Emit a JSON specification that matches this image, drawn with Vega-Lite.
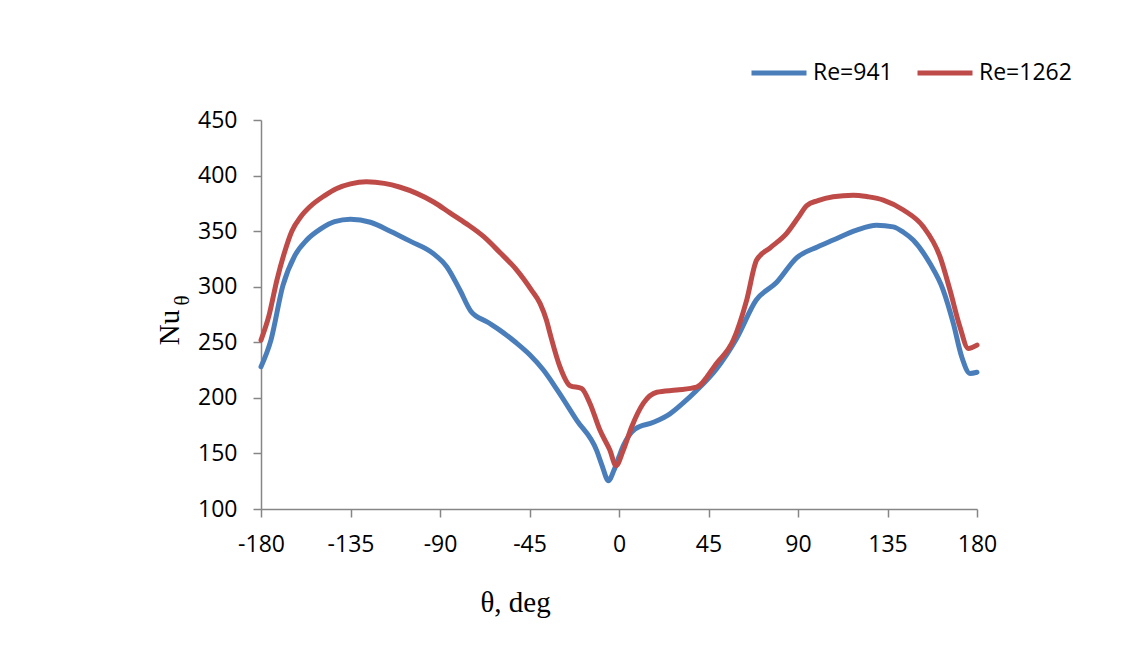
{
  "$schema": "https://vega.github.io/schema/vega-lite/v6.json",
  "width": 716,
  "height": 389,
  "autosize": {"type": "none"},
  "padding": {"left": 261, "top": 120, "right": 156, "bottom": 138},
  "background": "white",
  "config": {
    "view": {"stroke": null},
    "axis": {
      "domainColor": "#868686",
      "domainWidth": 1.5,
      "tickColor": "#868686",
      "tickWidth": 1.5,
      "tickSize": 8,
      "grid": false,
      "labelFont": "Open Sans",
      "labelFontSize": 23,
      "labelColor": "#000000",
      "labelFlush": false,
      "labelOverlap": false,
      "titleFont": "Liberation Serif",
      "titleFontSize": 29,
      "titleFontWeight": "normal",
      "titleColor": "#000000"
    }
  },
  "data": {
    "values": [
      {"theta": -180, "Nu": 228, "series": "Re=941"},
      {"theta": -175, "Nu": 252, "series": "Re=941"},
      {"theta": -169, "Nu": 301, "series": "Re=941"},
      {"theta": -163, "Nu": 328, "series": "Re=941"},
      {"theta": -157, "Nu": 342, "series": "Re=941"},
      {"theta": -150, "Nu": 352, "series": "Re=941"},
      {"theta": -143, "Nu": 358.5, "series": "Re=941"},
      {"theta": -135, "Nu": 360.7, "series": "Re=941"},
      {"theta": -125, "Nu": 358, "series": "Re=941"},
      {"theta": -115, "Nu": 350, "series": "Re=941"},
      {"theta": -105, "Nu": 341, "series": "Re=941"},
      {"theta": -93.5, "Nu": 330, "series": "Re=941"},
      {"theta": -86.6, "Nu": 318, "series": "Re=941"},
      {"theta": -80, "Nu": 297, "series": "Re=941"},
      {"theta": -74.5, "Nu": 278, "series": "Re=941"},
      {"theta": -66, "Nu": 268, "series": "Re=941"},
      {"theta": -59.8, "Nu": 260.7, "series": "Re=941"},
      {"theta": -52, "Nu": 250, "series": "Re=941"},
      {"theta": -45, "Nu": 239, "series": "Re=941"},
      {"theta": -38, "Nu": 225, "series": "Re=941"},
      {"theta": -31, "Nu": 207, "series": "Re=941"},
      {"theta": -21.3, "Nu": 180, "series": "Re=941"},
      {"theta": -11.2, "Nu": 152.5, "series": "Re=941"},
      {"theta": -8.7, "Nu": 140, "series": "Re=941"},
      {"theta": -5.3, "Nu": 125.5, "series": "Re=941"},
      {"theta": -2.5, "Nu": 135, "series": "Re=941"},
      {"theta": 0, "Nu": 147, "series": "Re=941"},
      {"theta": 2.2, "Nu": 157, "series": "Re=941"},
      {"theta": 5, "Nu": 166, "series": "Re=941"},
      {"theta": 8.1, "Nu": 172, "series": "Re=941"},
      {"theta": 17.3, "Nu": 178, "series": "Re=941"},
      {"theta": 25.6, "Nu": 185.6, "series": "Re=941"},
      {"theta": 32, "Nu": 195, "series": "Re=941"},
      {"theta": 39, "Nu": 206.6, "series": "Re=941"},
      {"theta": 49, "Nu": 226, "series": "Re=941"},
      {"theta": 59, "Nu": 253, "series": "Re=941"},
      {"theta": 69, "Nu": 288, "series": "Re=941"},
      {"theta": 79.3, "Nu": 304, "series": "Re=941"},
      {"theta": 89.3, "Nu": 326, "series": "Re=941"},
      {"theta": 100, "Nu": 336, "series": "Re=941"},
      {"theta": 107.7, "Nu": 342, "series": "Re=941"},
      {"theta": 119.5, "Nu": 351, "series": "Re=941"},
      {"theta": 129.5, "Nu": 355.3, "series": "Re=941"},
      {"theta": 137.9, "Nu": 353.8, "series": "Re=941"},
      {"theta": 143, "Nu": 349, "series": "Re=941"},
      {"theta": 147.9, "Nu": 342, "series": "Re=941"},
      {"theta": 156.3, "Nu": 321, "series": "Re=941"},
      {"theta": 163, "Nu": 297, "series": "Re=941"},
      {"theta": 168.1, "Nu": 267, "series": "Re=941"},
      {"theta": 172.3, "Nu": 237, "series": "Re=941"},
      {"theta": 176.5, "Nu": 222, "series": "Re=941"},
      {"theta": 180, "Nu": 223, "series": "Re=941"},
      {"theta": -180, "Nu": 252, "series": "Re=1262"},
      {"theta": -176, "Nu": 274, "series": "Re=1262"},
      {"theta": -172, "Nu": 306, "series": "Re=1262"},
      {"theta": -168, "Nu": 332, "series": "Re=1262"},
      {"theta": -164.5, "Nu": 350, "series": "Re=1262"},
      {"theta": -160, "Nu": 363, "series": "Re=1262"},
      {"theta": -155.4, "Nu": 372, "series": "Re=1262"},
      {"theta": -148, "Nu": 382, "series": "Re=1262"},
      {"theta": -141.9, "Nu": 388.4, "series": "Re=1262"},
      {"theta": -135, "Nu": 392.5, "series": "Re=1262"},
      {"theta": -127, "Nu": 394.4, "series": "Re=1262"},
      {"theta": -118, "Nu": 393, "series": "Re=1262"},
      {"theta": -110, "Nu": 389.5, "series": "Re=1262"},
      {"theta": -101.7, "Nu": 384, "series": "Re=1262"},
      {"theta": -93, "Nu": 376, "series": "Re=1262"},
      {"theta": -85, "Nu": 366.5, "series": "Re=1262"},
      {"theta": -77, "Nu": 357, "series": "Re=1262"},
      {"theta": -68, "Nu": 345, "series": "Re=1262"},
      {"theta": -60, "Nu": 331, "series": "Re=1262"},
      {"theta": -51.4, "Nu": 315, "series": "Re=1262"},
      {"theta": -44, "Nu": 297, "series": "Re=1262"},
      {"theta": -39.7, "Nu": 285, "series": "Re=1262"},
      {"theta": -36.5, "Nu": 270, "series": "Re=1262"},
      {"theta": -34.7, "Nu": 258, "series": "Re=1262"},
      {"theta": -29.7, "Nu": 228, "series": "Re=1262"},
      {"theta": -24.6, "Nu": 211, "series": "Re=1262"},
      {"theta": -18.8, "Nu": 208.5, "series": "Re=1262"},
      {"theta": -14.6, "Nu": 195, "series": "Re=1262"},
      {"theta": -9.6, "Nu": 171, "series": "Re=1262"},
      {"theta": -4.6, "Nu": 153, "series": "Re=1262"},
      {"theta": -1.5, "Nu": 139, "series": "Re=1262"},
      {"theta": 2.1, "Nu": 152.6, "series": "Re=1262"},
      {"theta": 6.4, "Nu": 174, "series": "Re=1262"},
      {"theta": 12.2, "Nu": 195, "series": "Re=1262"},
      {"theta": 19, "Nu": 205, "series": "Re=1262"},
      {"theta": 29, "Nu": 207, "series": "Re=1262"},
      {"theta": 39, "Nu": 209.6, "series": "Re=1262"},
      {"theta": 49, "Nu": 231, "series": "Re=1262"},
      {"theta": 57.5, "Nu": 252, "series": "Re=1262"},
      {"theta": 64.2, "Nu": 288, "series": "Re=1262"},
      {"theta": 69.2, "Nu": 324, "series": "Re=1262"},
      {"theta": 76, "Nu": 335, "series": "Re=1262"},
      {"theta": 84.3, "Nu": 348, "series": "Re=1262"},
      {"theta": 90, "Nu": 362, "series": "Re=1262"},
      {"theta": 94.4, "Nu": 373, "series": "Re=1262"},
      {"theta": 100, "Nu": 377.5, "series": "Re=1262"},
      {"theta": 107.7, "Nu": 381, "series": "Re=1262"},
      {"theta": 117.8, "Nu": 382.4, "series": "Re=1262"},
      {"theta": 125, "Nu": 381, "series": "Re=1262"},
      {"theta": 132.9, "Nu": 378, "series": "Re=1262"},
      {"theta": 143, "Nu": 369, "series": "Re=1262"},
      {"theta": 153, "Nu": 354, "series": "Re=1262"},
      {"theta": 161.4, "Nu": 327, "series": "Re=1262"},
      {"theta": 166.4, "Nu": 297, "series": "Re=1262"},
      {"theta": 171.4, "Nu": 264, "series": "Re=1262"},
      {"theta": 175.6, "Nu": 244.5, "series": "Re=1262"},
      {"theta": 180, "Nu": 247.5, "series": "Re=1262"}
    ]
  },
  "layer": [
    {
      "mark": {"type": "line", "interpolate": "monotone", "strokeWidth": 5, "strokeCap": "round", "strokeJoin": "round"},
      "encoding": {
        "x": {
          "field": "theta",
          "type": "quantitative",
          "scale": {"domain": [-180, 180], "nice": false, "zero": false},
          "axis": {
            "values": [-180, -135, -90, -45, 0, 45, 90, 135, 180],
            "labelExpr": "datum.value < 0 ? '-' + abs(datum.value) : '' + datum.value",
            "labelPadding": 16,
            "title": "θ, deg",
            "titleX": 254,
            "titleY": 102,
            "titleAlign": "center",
            "titleBaseline": "alphabetic"
          }
        },
        "y": {
          "field": "Nu",
          "type": "quantitative",
          "scale": {"domain": [100, 450], "nice": false, "zero": false},
          "axis": {
            "values": [100, 150, 200, 250, 300, 350, 400, 450],
            "labelPadding": 16,
            "title": "Nu",
            "titleX": -92,
            "titleY": 207,
            "titleAngle": 270,
            "titleAlign": "center",
            "titleBaseline": "middle"
          }
        },
        "color": {
          "field": "series",
          "type": "nominal",
          "sort": ["Re=941", "Re=1262"],
          "scale": {"domain": ["Re=941", "Re=1262"], "range": ["#4A7EBB", "#BE4B48"]},
          "legend": {
            "title": null,
            "orient": "none",
            "legendX": 488,
            "legendY": -77,
            "direction": "horizontal",
            "columns": 2,
            "columnPadding": 14,
            "padding": 0,
            "symbolType": "stroke",
            "symbolSize": 3025,
            "symbolStrokeWidth": 5,
            "labelOffset": 4,
            "labelFont": "Open Sans",
            "labelFontSize": 23,
            "labelColor": "#000000"
          }
        }
      }
    },
    {
      "mark": {"type": "point", "opacity": 0},
      "encoding": {
        "x": {"field": "theta", "type": "quantitative"},
        "y": {
          "field": "Nu",
          "type": "quantitative",
          "scale": {"domain": [100, 450], "nice": false, "zero": false},
          "axis": {
            "orient": "right",
            "domain": false,
            "ticks": false,
            "labels": false,
            "title": "θ",
            "titleFontSize": 21,
            "titleX": -795,
            "titleY": 180,
            "titleAngle": 270,
            "titleAlign": "center",
            "titleBaseline": "middle"
          }
        }
      }
    }
  ],
  "resolve": {"scale": {"y": "independent"}}
}
